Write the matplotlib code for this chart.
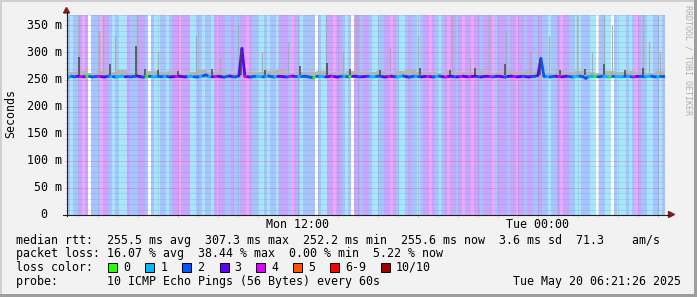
import numpy as np
import matplotlib
matplotlib.use("Agg")
import matplotlib.pyplot as plt
import matplotlib.transforms as mtransforms
from matplotlib.lines import Line2D
from matplotlib.patches import Polygon, Rectangle

# ---------------- data ----------------
# time axis in hours from Mon 00:00 ; window Mon 00:27 -> Tue 06:21
t_start, t_end = 0.45, 30.35

# loss (pings lost out of 10) per 9-minute step
loss = [2,1,2,2,3,4,3,0,2,2,2,4,3,3,2,1,2,1,1,1,3,2,2,2,3,3,2,0,
        2,1,1,2,2,1,2,3,3,4,3,3,3,1,1,2,2,1,2,2,1,3,4,3,3,2,2,3,2,2,
        3,
        3,4,3,2,2,1,1,2,1,2,2,1,3,3,3,2,4,3,2,
        1,2,2,2,2,0,2,1,1,3,3,4,3,3,2,1,2,0,3,3,2,3,3,2,
        1,1,2,2,3,3,4,3,2,1,1,2,3,2,2,1,2,3,3,4,3,2,1,2,3,4,3,3,2,3,4,3,
        3,4,3,3,2,3,3,3,4,2,3,3,3,2,3,3,4,3,3,2,3,3,2,2,
        3,2,2,1,2,2,3,4,3,3,2,2,1,1,2,2,2,1,1,0,2,2,1,1,0,2,1,1,1,2,1,2,
        4,3,2,2,1,1,2,2,1,2]

# median rtt (ms) per step
median = [
    255.2, 255.8, 254.9, 256.1, 255.4, 255.0, 256.3, 255.7, 254.8, 255.5, 256.0, 255.3, 254.6, 255.9, 256.4, 255.1, 254.7, 255.6, 256.2, 255.0,
    255.4, 254.9, 255.8, 256.6, 255.2, 254.5, 255.7, 256.0, 255.3, 254.8, 255.9, 255.1, 256.3, 255.6, 254.7, 255.2, 255.8, 256.1, 255.4, 254.9,
    255.5, 256.2, 255.0, 254.6, 255.7, 256.8, 258.5, 255.3, 254.9, 255.6, 256.0, 255.2, 254.4, 255.8, 256.5, 255.1, 254.8, 257.0, 307.3, 255.4,
    255.0, 254.6, 255.7, 256.1, 255.3, 254.8, 255.9, 256.4, 255.2, 254.5, 255.6, 256.0, 255.1, 254.7, 255.8, 256.3, 255.4, 254.9, 255.5, 256.2,
    255.1, 254.3, 253.0, 255.7, 256.1, 255.4, 254.8, 255.6, 256.5, 255.2, 254.6, 255.9, 256.0, 255.3, 254.7, 255.8, 256.2, 255.0, 254.9, 255.5,
    256.1, 255.2, 254.6, 255.8, 256.4, 255.1, 254.7, 255.5, 256.0, 255.3, 254.8, 255.9, 256.6, 255.2, 254.5, 255.7, 256.1, 255.4, 254.9, 255.6,
    256.0, 255.1, 254.7, 255.8, 256.3, 255.2, 254.6, 255.5, 256.2, 255.0, 254.8, 255.7, 256.1, 255.3, 254.9, 255.6, 256.4, 255.2, 254.7, 255.8,
    256.0, 255.3, 254.8, 255.9, 256.2, 255.1, 254.6, 255.7, 256.3, 255.4, 254.9, 255.5, 256.1, 255.2, 254.7, 255.8, 256.0, 257.5, 289.0, 256.2,
    255.1, 254.7, 255.6, 256.2, 255.3, 254.8, 255.9, 256.1, 255.0, 254.6, 255.7, 256.3, 255.2, 252.2, 255.5, 256.0, 255.4, 254.9, 255.8, 256.2,
    255.1, 254.6, 255.7, 256.1, 255.3, 254.8, 255.9, 256.4, 255.2, 254.7, 255.6, 256.0, 255.3, 254.9, 255.8, 256.2, 255.1, 254.8, 255.5, 255.6]

# smoke band upper edge (ms), per half hour
smoke_top = [263, 266, 262, 265, 264, 267, 262, 264, 266, 263, 265, 262, 264, 267, 263,
             265, 262, 266, 264, 263, 265, 267, 262, 264, 263, 266, 264, 262, 265, 263,
             264, 266, 262, 265, 267, 263, 264, 262, 266, 264, 263, 265, 262, 264, 266,
             263, 265, 264, 262, 266, 263, 265, 264, 262, 265, 263, 266, 264, 262, 265]

# tall light smoke spikes: hour, top (ms)
light_spike_t = [1.05, 2.05, 2.25, 2.85, 3.95, 5.0, 6.9, 8.1, 9.0, 10.2, 11.5, 13.4, 14.25,
                 14.9, 16.6, 18.0, 19.7, 20.6, 21.55, 22.4, 23.6, 24.55, 25.95, 26.7,
                 27.3, 27.7, 29.25, 29.55, 30.1]
light_spike_v = [372, 340, 372, 330, 372, 300, 330, 290, 350, 300, 320, 372, 300,
                 372, 310, 330, 372, 290, 372, 340, 300, 330, 372, 300,
                 372, 350, 372, 320, 300]
# short dark smoke spikes: hour, top (ms)
dark_spike_t = [1.05, 2.6, 3.9, 4.35, 5.0, 6.0, 7.7, 9.15, 10.35, 12.1, 13.45, 14.6, 16.1,
                18.1, 19.6, 20.85, 22.35, 24.1, 25.1, 26.35, 27.3, 28.35, 29.25]
dark_spike_v = [292, 278, 311, 270, 268, 265, 270, 305, 268, 275, 280, 270, 268,
                272, 268, 272, 278, 288, 268, 270, 278, 268, 272]

loss_labels = ["0", "1", "2", "3", "4", "5", "6-9", "10/10"]
loss_colors = ["#26ff00", "#00b8ff", "#0059ff", "#5e00ff", "#dd00ff", "#ff5500", "#ff0000", "#a10000"]

ytick_vals = [0, 50, 100, 150, 200, 250, 300, 350]
ytick_labels = ["0", "50 m", "100 m", "150 m", "200 m", "250 m", "300 m", "350 m"]
xtick_hours = [12, 24]
xtick_labels = ["Mon 12:00", "Tue 00:00"]

legend_lines = [
    "median rtt:  255.5 ms avg  307.3 ms max  252.2 ms min  255.6 ms now  3.6 ms sd  71.3    am/s",
    "packet loss: 16.07 % avg  38.44 % max  0.00 % min  5.22 % now",
]
probe_text = "probe:       10 ICMP Echo Pings (56 Bytes) every 60s"
date_text = "Tue May 20 06:21:26 2025"

# ---------------- figure ----------------
W, H = 697, 297
MONO = "DejaVu Sans Mono"
FS = 8.4
fig = plt.figure(figsize=(W / 100, H / 100), dpi=100)
fig.patch.set_facecolor("#f2f2f2")

def fx(px):
    return px / W

def fy(py):
    return 1 - py / H

ax = fig.add_axes([fx(67), fy(215), fx(665) - fx(67), fy(14.5) - fy(215)])
ax.set_xlim(t_start, t_end)
ax.set_ylim(0, 370)
ax.set_facecolor("white")
for s in ax.spines.values():
    s.set_visible(False)
ax.set_xticks([])
ax.set_yticks([])

n = len(loss)
edges = np.linspace(t_start, t_end, n + 1)
white = np.array([1.0, 1.0, 1.0])

def light(c):
    rgb = np.array(matplotlib.colors.to_rgb(c))
    return tuple(0.35 * rgb + 0.65 * white)

bg_cols = [light(loss_colors[v]) if v > 0 else (1, 1, 1) for v in loss]
ax.bar(edges[:-1], [370] * n, width=np.diff(edges), align="edge", color=bg_cols,
       linewidth=0, antialiased=False, zorder=0)

# grid
px_y = 370 / 200.5
px_x = (t_end - t_start) / 598
minor_c = (0.56, 0.56, 0.56, 0.45)
major_c = (0.87, 0.31, 0.31, 0.55)
for v in range(0, 371, 10):
    if v % 50 == 0:
        continue
    ax.plot([t_start - 2 * px_x, t_end], [v, v], color=minor_c, lw=0.72,
            ls=(0, (1, 1)), zorder=1, clip_on=False)
for h in range(1, 31):
    if h % 6 == 0:
        continue
    ax.plot([h, h], [-2 * px_y, 370], color=minor_c, lw=0.72,
            ls=(0, (1, 1)), zorder=1, clip_on=False)
for v in ytick_vals[1:]:
    ax.plot([t_start - 2 * px_x, t_end], [v, v], color=major_c, lw=0.72,
            ls=(0, (1, 1)), zorder=1.1, clip_on=False)
for h in [6, 12, 18, 24, 30]:
    ax.plot([h, h], [-2 * px_y, 370], color=major_c, lw=0.72,
            ls=(0, (1, 1)), zorder=1.1, clip_on=False)

# smoke
st_edges = np.linspace(t_start, t_end, len(smoke_top) + 1)
ax.fill_between(st_edges, 252, list(smoke_top) + [smoke_top[-1]], step="post",
                color="#b4b4b4", lw=0, zorder=2)
ax.vlines(light_spike_t, 255, light_spike_v, color="#ababab", lw=0.9, zorder=2.1)

# median line coloured by loss (segments between step centres)
centers = (edges[:-1] + edges[1:]) / 2
for i in range(n):
    x0 = edges[i] if i == 0 else centers[i - 1]
    y0 = median[i] if i == 0 else median[i - 1]
    ax.plot([x0, centers[i]], [y0, median[i]], color=loss_colors[loss[i]], lw=2.0,
            solid_capstyle="round", zorder=3)
ax.plot([centers[-1], edges[-1]], [median[-1], median[-1]], color=loss_colors[loss[-1]],
        lw=2.0, zorder=3)

# dark smoke drawn over the line top
ax.vlines(dark_spike_t, 258, dark_spike_v, color="#4a4050", lw=1.1, zorder=3.5)

# axis lines and arrows
axis_col = "#1f1f1f"
arrow_col = "#801f1f"
fig.add_artist(Line2D([fx(66.5), fx(66.5)], [fy(215.5), fy(12)], color=axis_col, lw=0.8))
fig.add_artist(Line2D([fx(63), fx(669)], [fy(214.5), fy(214.5)], color=axis_col, lw=0.8))
fig.add_artist(Polygon([[fx(66.5), fy(7.5)], [fx(63.5), fy(13)], [fx(69.5), fy(13)]],
                       closed=True, color=arrow_col, transform=fig.transFigure))
fig.add_artist(Polygon([[fx(674.5), fy(214.5)], [fx(668.5), fy(211.5)], [fx(668.5), fy(217.5)]],
                       closed=True, color=arrow_col, transform=fig.transFigure))

# tick labels
ty = mtransforms.blended_transform_factory(fig.transFigure, ax.transData)
for v, lab in zip(ytick_vals, ytick_labels):
    xr = 61.5 if lab != "0" else 61.5 - 2 * 7.06
    fig.text(fx(xr), v, lab, transform=ty, ha="right", va="center",
             fontfamily=MONO, fontsize=FS, color="black")
tx = mtransforms.blended_transform_factory(ax.transData, fig.transFigure)
for h, lab in zip(xtick_hours, xtick_labels):
    fig.text(h, fy(224.5), lab, transform=tx, ha="center", va="center",
             fontfamily=MONO, fontsize=FS, color="black")

fig.text(fx(10.5), fy(114), "Seconds", rotation=90, ha="center", va="center",
         fontfamily=MONO, fontsize=FS, color="black")
fig.text(fx(688), fy(60), "RRDTOOL / TOBI OETIKER", rotation=-90, ha="center", va="center",
         fontfamily=MONO, fontsize=6.0, color="#b0b0b0")

# legend
fig.text(fx(16), fy(240.5), legend_lines[0], ha="left", va="center", fontfamily=MONO, fontsize=FS)
fig.text(fx(16), fy(254), legend_lines[1], ha="left", va="center", fontfamily=MONO, fontsize=FS)
fig.text(fx(16), fy(267.5), "loss color:", ha="left", va="center", fontfamily=MONO, fontsize=FS)
box_x = [108, 145.3, 182.2, 219.6, 256.4, 293.3, 330.2, 380.9]
for bx, col, lab in zip(box_x, loss_colors, loss_labels):
    fig.add_artist(Rectangle((fx(bx), fy(272)), fx(9), 9 / H, transform=fig.transFigure,
                             facecolor=col, edgecolor="black", lw=0.7))
    fig.text(fx(bx + 15), fy(267.5), lab, ha="left", va="center", fontfamily=MONO, fontsize=FS)
fig.text(fx(16), fy(281), probe_text, ha="left", va="center", fontfamily=MONO, fontsize=FS)
fig.text(fx(681), fy(281), date_text, ha="right", va="center", fontfamily=MONO, fontsize=FS)

# 3D frame
fig.add_artist(Rectangle((0, fy(2)), 1, 2 / H, transform=fig.transFigure, color="#cfcfcf", lw=0))
fig.add_artist(Rectangle((0, 0), 2 / W, 1, transform=fig.transFigure, color="#cfcfcf", lw=0))
fig.add_artist(Rectangle((0, 0), 1, 3 / H, transform=fig.transFigure, color="#9e9e9e", lw=0))
fig.add_artist(Rectangle((fx(694), 0), 3 / W, 1, transform=fig.transFigure, color="#9e9e9e", lw=0))

fig.savefig("out.png", dpi=100, facecolor=fig.get_facecolor())
